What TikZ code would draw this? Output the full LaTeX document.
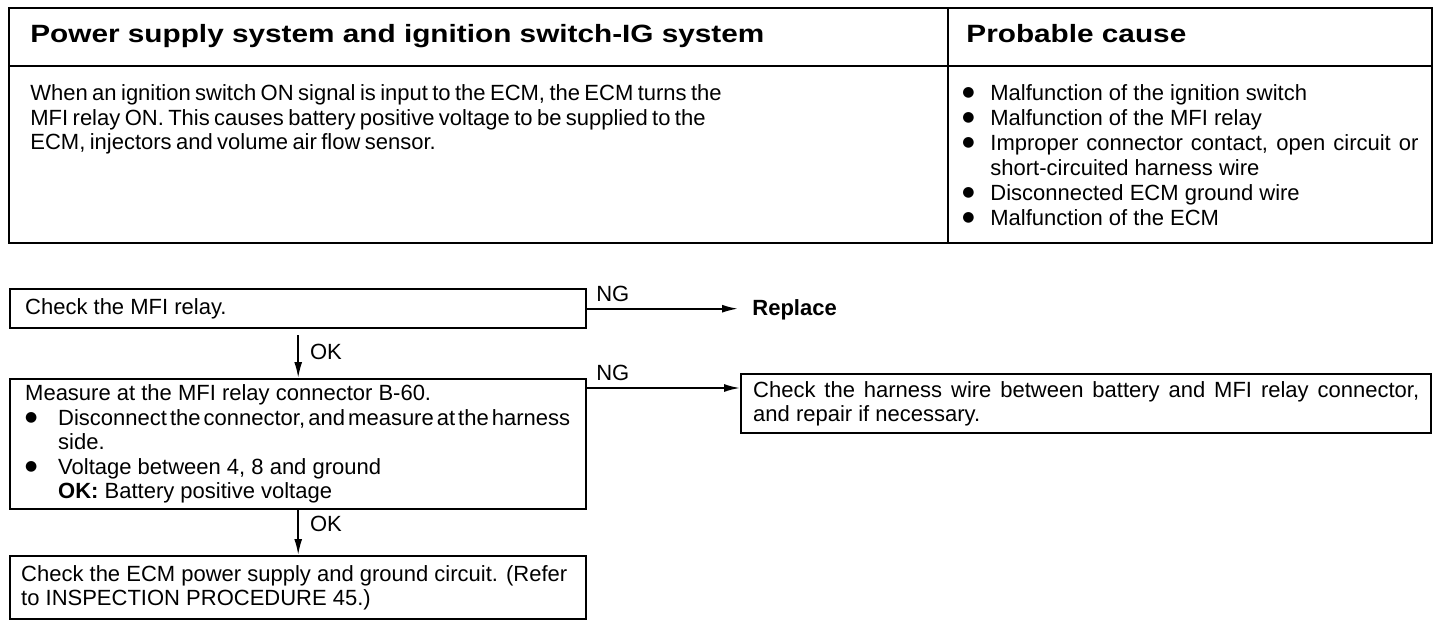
\documentclass[tikz,border=0pt]{standalone}
\usepackage{fontspec}
\setmainfont{Liberation Sans}
\newfontfamily\headfont[FakeStretch=1.19]{Liberation Sans}
\newfontfamily\dotfont{DejaVu Sans}
\usetikzlibrary{arrows.meta}

% bullet line with hanging indent
\newcommand{\bulletmark}{\raisebox{1.8pt}{\dotfont\fontsize{7pt}{7pt}\selectfont ●}}
\newcommand{\bulletitem}[2][14pt]{\par\noindent\hangindent=#1\hangafter=1\makebox[#1][l]{\bulletmark}#2\par}

\begin{document}
\begin{tikzpicture}[x=0.5pt, y=-0.5pt,
    frame/.style={line width=1.2pt},
    flowbox/.style={draw, line width=1.2pt, rectangle, anchor=north west, text width=273pt, inner xsep=7.5pt, inner ysep=0pt, align=left, font=\fontsize{11pt}{12.25pt}\selectfont, execute at begin node={\spaceskip=0pt\xspaceskip=0pt}},
    flowarrow/.style={-{Latex[length=8pt, width=4pt]}, line width=0.9pt},
    nglabel/.style={anchor=south west, inner xsep=4pt, inner ysep=3pt, font=\fontsize{11pt}{13pt}\selectfont},
    oklabel/.style={anchor=west, inner xsep=5.5pt, inner ysep=0pt, font=\fontsize{11pt}{13pt}\selectfont},
    headtext/.style={anchor=base west, inner sep=0pt, font=\headfont\bfseries\fontsize{12.5pt}{15pt}\selectfont}]
    \useasboundingbox (0,0) rectangle (1456,626);

    % header table
    \draw[frame] (9,8) rectangle (1432,243);
    \draw[frame] (9,66) -- (1432,66);
    \draw[frame] (948,8) -- (948,243);

    \node (heading) [headtext] at (30,43) {Power supply system and ignition switch-IG system};
    \node (causehead) [headtext] at (966,43) {Probable cause};

    \node (desc) [anchor=north west, inner sep=0pt, text width=400pt, align=left, font=\fontsize{11pt}{12.4pt}\selectfont] at (30,84) {\spaceskip=2.2pt plus 1pt minus 0.5pt When an ignition switch ON signal is input to the ECM, the ECM turns the\\MFI relay ON. This causes battery positive voltage to be supplied to the\\ECM, injectors and volume air flow sensor.};

    \node (causes) [anchor=north west, inner sep=0pt, text width=228pt, align=justify, font=\fontsize{11pt}{12.5pt}\selectfont] at (962,75) {%
        \bulletitem{Malfunction of the ignition switch}
        \bulletitem{Malfunction of the MFI relay}
        \bulletitem{Improper connector contact, open circuit or short-circuited harness wire}
        \bulletitem{Disconnected ECM ground wire}
        \bulletitem{Malfunction of the ECM}};

    % flow chart
    \node (relay) [flowbox, minimum height=19.5pt] at (9,288) {Check the MFI relay.};
    \node (replace) [anchor=west, inner ysep=0pt, inner xsep=7pt, font=\bfseries\fontsize{11pt}{13pt}\selectfont] at (738,310) {Replace};

    \node (measure) [flowbox, minimum height=65pt] at (9,378) {Measure at the MFI relay connector B-60.
        \bulletitem[16.5pt]{\makebox[256pt][s]{\spaceskip=1pt plus 4pt Disconnect the connector, and measure at the harness}\newline side.}
        \bulletitem[16.5pt]{Voltage between 4, 8 and ground\newline \textbf{OK:} Battery positive voltage}};

    \node (harness) [flowbox, text width=333pt, inner xsep=6pt, align=justify, minimum height=29.5pt] at (740,373) {Check the harness wire between battery and MFI relay connector,\linebreak and repair if necessary.};

    \node (ecm) [flowbox, text width=277pt, inner xsep=5.5pt, minimum height=31.5pt] at (9,555) {Check the ECM power supply and ground circuit. (Refer\newline to INSPECTION PROCEDURE 45.)};

    \draw[flowarrow] (relay.east) -- (relay.east -| replace.west) node[pos=0, nglabel] (ng1) {NG};
    \draw[flowarrow] ([yshift=-3pt]relay.south) -- (measure.north) node[pos=0.38, oklabel] (ok1) {OK};
    \draw[flowarrow] ([yshift=-5pt]measure.north east) -- ([yshift=-5pt]measure.north east -| harness.west) node[pos=0, nglabel] (ng2) {NG};
    \draw[flowarrow] (measure.south) -- (ecm.north) node[pos=0.3, oklabel] (ok2) {OK};
\end{tikzpicture}
\end{document}
